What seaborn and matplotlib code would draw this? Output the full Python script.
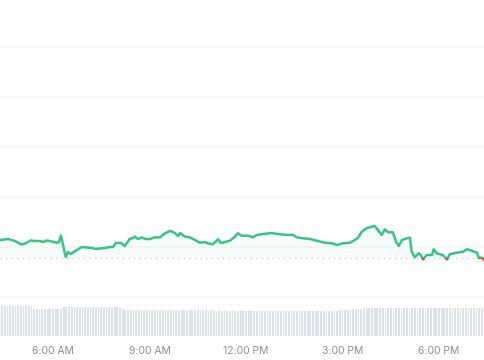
import numpy as np
import pandas as pd
import matplotlib
matplotlib.use("Agg")
import matplotlib.pyplot as plt
from matplotlib.patches import Rectangle
import seaborn as sns

# ---- price series (time of day, price) ----
times = ["04:21", "04:30", "04:36", "04:43", "04:49", "04:56", "05:02", "05:08", "05:13", "05:19",
         "05:26", "05:36", "05:41", "05:49", "05:58", "06:05", "06:11", "06:15", "06:18", "06:22",
         "06:24", "06:28", "06:33", "06:39", "06:46", "06:54", "07:03", "07:13", "07:20", "07:27",
         "07:37", "07:46", "07:52", "07:57", "08:07", "08:14", "08:23", "08:29", "08:33", "08:38",
         "08:46", "08:53", "09:01", "09:10", "09:19", "09:29", "09:38", "09:44", "09:47", "09:53",
         "09:57", "10:06", "10:15", "10:25", "10:34", "10:43", "10:49", "10:58", "11:08", "11:13",
         "11:21", "11:30", "11:39", "11:45", "11:52", "12:04", "12:13", "12:20", "12:32", "12:48",
         "13:03", "13:18", "13:27", "13:35", "13:46", "13:59", "14:14", "14:27", "14:40", "14:50",
         "15:01", "15:14", "15:23", "15:29", "15:36", "15:45", "15:55", "16:00", "16:06", "16:13",
         "16:19", "16:25", "16:34", "16:40", "16:45", "16:51", "17:00", "17:06", "17:09", "17:15",
         "17:22", "17:26", "17:30", "17:37", "17:47", "17:50", "17:56", "18:07", "18:15", "18:20",
         "18:33", "18:45", "18:52", "19:01", "19:11", "19:14", "19:20", "19:26"]
prices = [1.0180, 1.0185, 1.0190, 1.0180, 1.0170, 1.0150, 1.0135, 1.0145, 1.0160, 1.0175,
          1.0170, 1.0170, 1.0160, 1.0175, 1.0165, 1.0155, 1.0155, 1.0225, 1.0150, 1.0050,
          1.0010, 1.0060, 1.0040, 1.0060, 1.0085, 1.0110, 1.0105, 1.0100, 1.0090, 1.0095,
          1.0100, 1.0110, 1.0110, 1.0150, 1.0150, 1.0120, 1.0190, 1.0200, 1.0213, 1.0190,
          1.0205, 1.0190, 1.0190, 1.0207, 1.0205, 1.0247, 1.0270, 1.0260, 1.0250, 1.0220,
          1.0250, 1.0213, 1.0207, 1.0180, 1.0153, 1.0160, 1.0147, 1.0137, 1.0187, 1.0150,
          1.0160, 1.0173, 1.0210, 1.0247, 1.0223, 1.0223, 1.0207, 1.0230, 1.0240, 1.0250,
          1.0237, 1.0230, 1.0233, 1.0207, 1.0197, 1.0190, 1.0170, 1.0153, 1.0147, 1.0130,
          1.0147, 1.0153, 1.0180, 1.0203, 1.0263, 1.0297, 1.0313, 1.0320, 1.0280, 1.0230,
          1.0287, 1.0257, 1.0257, 1.0163, 1.0120, 1.0180, 1.0197, 1.0203, 1.0063, 1.0007,
          1.0047, 1.0030, 0.9987, 1.0030, 1.0030, 1.0087, 1.0047, 1.0030, 0.9987, 1.0037,
          1.0053, 1.0063, 1.0087, 1.0073, 1.0053, 1.0003, 1.0003, 0.9970]
open_price = 1.0

# ---- volume (5-minute bars starting 04:20) ----
volume_start = "04:20"
volume = [29.8, 30.1, 30.0, 30.2, 29.9, 30.0, 30.3, 30.1, 30.0, 29.9, 30.2, 30.4, 30.0,
          27.2, 27.0, 26.9, 27.1, 27.0, 27.2, 26.8, 27.0, 27.1, 26.9, 27.0,
          29.2, 29.4, 29.3, 29.1, 29.5, 29.3, 29.2, 29.4, 29.3, 29.2, 29.1, 29.3, 29.4, 29.2,
          29.3, 29.1, 29.2, 29.4, 29.3, 29.0, 28.6, 28.0, 27.2,
          26.0, 26.1, 25.9, 26.0, 26.2, 25.9, 26.0, 26.1, 25.8, 26.0,
          25.9, 26.0, 26.1, 25.8, 25.9, 26.0, 25.7, 25.9, 26.0, 25.8,
          25.7, 25.9, 25.8, 25.7, 25.9, 25.6, 25.8, 25.7, 25.6, 25.8,
          25.6, 25.5, 25.7, 25.6, 25.5, 25.7, 25.4, 25.6, 25.5, 25.4,
          25.6, 25.5, 25.3, 25.5, 25.4, 25.3, 25.5, 25.4, 25.3, 25.2,
          25.4, 25.3, 25.4, 25.2, 25.3, 25.4, 25.3, 25.2, 25.4, 25.3,
          25.3, 25.4, 25.2, 25.3, 25.5, 25.3, 25.4, 25.2, 25.3, 25.4,
          25.3, 25.5, 25.4, 25.3, 25.4, 25.6, 25.5, 25.4, 25.6, 25.5,
          25.7, 25.6, 25.8, 26.0, 26.3, 26.7, 27.0, 27.3, 27.5,
          27.6, 27.7, 27.8, 27.6, 27.7, 27.9, 27.7, 27.6, 27.8, 27.7,
          27.6, 27.8, 27.7, 27.9, 27.7, 27.8, 27.9, 28.0, 28.1,
          28.3, 28.2, 28.4, 28.3, 28.2, 28.4, 28.3, 28.5, 28.3, 28.2,
          28.4, 28.3, 28.4, 28.2, 28.3, 28.5, 28.3, 28.4, 28.2, 28.3,
          28.4, 28.3, 28.2, 28.4, 28.3, 28.5, 28.3]

tick_hours = [6, 9, 12, 15, 18]
tick_labels = ["6:00 AM", "9:00 AM", "12:00 PM", "3:00 PM", "6:00 PM"]

GREEN = "#36c487"
RED = "#e5484d"


def to_hours(s):
    t = pd.to_datetime(pd.Series(s), format="%H:%M")
    return (t.dt.hour + t.dt.minute / 60.0).to_numpy()


hours = to_hours(times)
price = np.array(prices)
v0 = to_hours([volume_start])[0]
vol_hours = v0 + np.arange(len(volume)) * 5 / 60.0

df = pd.DataFrame({"hour": hours, "price": price})
vdf = pd.DataFrame({"hour": vol_hours, "volume": volume})

sns.set_style("white")
plt.rcParams["font.family"] = ["Inter", "DejaVu Sans"]

fig = plt.figure(figsize=(4.85, 3.6), dpi=100)
xlim = (4.353, 19.43)

# price axes
ax = fig.add_axes([0, 60 / 360, 1, 300 / 360])
ax.set_xlim(*xlim)
ax.set_ylim(0.958, 1.258)
grid_vals = [1.211, 1.161, 1.111, 1.061, 1.011, 0.961]
for g in grid_vals:
    ax.axhline(g, color="#f7f7f8", lw=1.5, zorder=0)

ax.fill_between(hours, price, open_price, where=price >= open_price,
                interpolate=True, color=GREEN, alpha=0.04, lw=0, zorder=1)
ax.fill_between(hours, price, open_price, where=price <= open_price,
                interpolate=True, color=RED, alpha=0.04, lw=0, zorder=1)
ax.axhline(open_price, color="#cdd0d5", lw=1.0, ls=(0, (1, 3)), zorder=2)

sns.lineplot(data=df, x="hour", y="price", ax=ax, color=GREEN, lw=1.8,
             estimator=None, zorder=3)
line_up = ax.lines[-1]
sns.lineplot(data=df, x="hour", y="price", ax=ax, color=RED, lw=1.8,
             estimator=None, zorder=3)
line_dn = ax.lines[-1]
clip_up = Rectangle((xlim[0], open_price), xlim[1] - xlim[0], 1.0,
                    transform=ax.transData, visible=False)
clip_dn = Rectangle((xlim[0], open_price - 1.0), xlim[1] - xlim[0], 1.0,
                    transform=ax.transData, visible=False)
ax.add_patch(clip_up)
ax.add_patch(clip_dn)
line_up.set_clip_path(clip_up)
line_dn.set_clip_path(clip_dn)

ax.set_axis_off()

# volume axes
vax = fig.add_axes([0, 24 / 360, 1, 36 / 360])
sns.barplot(data=vdf, x="hour", y="volume", ax=vax, native_scale=True,
            color="#dde1ea", saturation=1, width=0.66, edgecolor="none")
vax.set_xlim(*xlim)
vax.set_ylim(0, 36)
vax.set_yticks([])
vax.set_xticks(tick_hours)
vax.set_xticklabels(tick_labels)
vax.tick_params(axis="x", length=0, pad=7, labelsize=7.5, labelcolor="#8a9099")
vax.set_xlabel("")
vax.set_ylabel("")
for s in vax.spines.values():
    s.set_visible(False)

fig.savefig("out.png", dpi=100)
